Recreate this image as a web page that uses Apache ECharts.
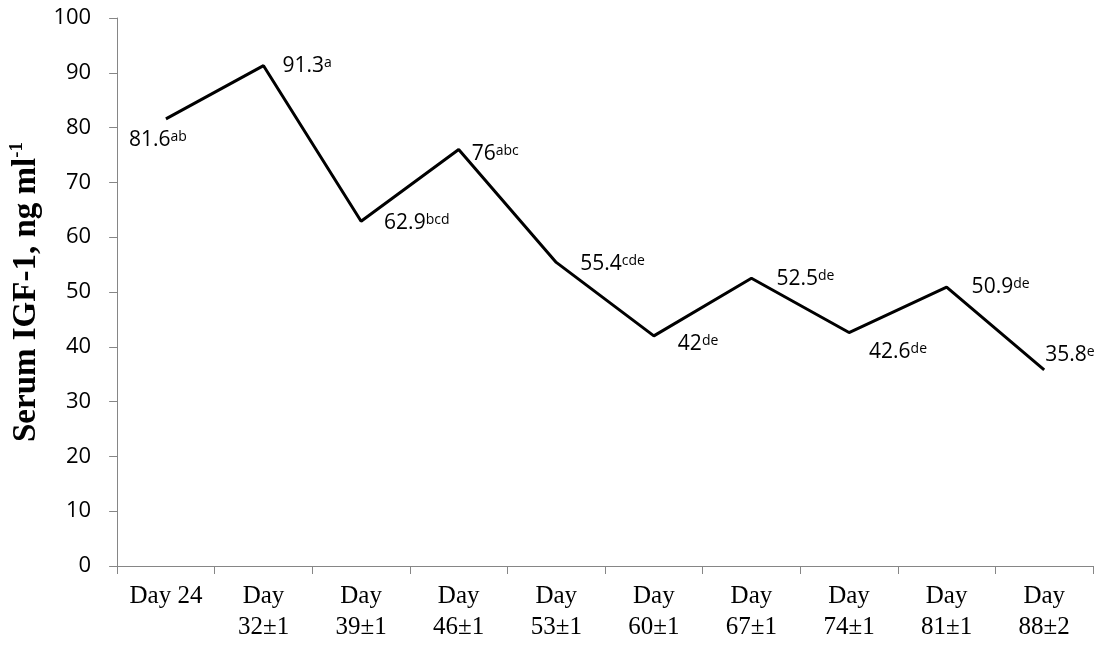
<!DOCTYPE html>
<html>
<head>
<meta charset="utf-8">
<script src="https://cdn.jsdelivr.net/npm/echarts@6/dist/echarts.min.js"></script>
<style>
  html, body { margin: 0; padding: 0; background: #fff; }
  #chart { width: 1113px; height: 645px; }
</style>
</head>
<body>
<div id="chart"></div>
<script>
// Sampling days
const categories = ['Day 24', 'Day\n32±1', 'Day\n39±1', 'Day\n46±1', 'Day\n53±1',
                    'Day\n60±1', 'Day\n67±1', 'Day\n74±1', 'Day\n81±1', 'Day\n88±2'];
// Mean serum IGF-1 (ng/ml)
const igf1 = [81.6, 91.3, 62.9, 76, 55.4, 42, 52.5, 42.6, 50.9, 35.8];
// Significance letters
const letters = ['ab', 'a', 'bcd', 'abc', 'cde', 'de', 'de', 'de', 'de', 'e'];
// Y axis ticks
const yTicks = { min: 0, max: 100, interval: 10 };

// Where each value label sits: [dx, dy] from its point to the label's left-middle
const labelOffsets = [[-37, 21], [19, 0], [23, 2], [13, 4], [24, 2],
                      [24, 8], [25, 1], [20, 19], [25, 0], [1, -15]];

const chart = echarts.init(document.getElementById('chart'));
const axisGray = '#868686';
const serif = 'Liberation Serif, Times New Roman, serif';
const sans = 'Open Sans, Lato, sans-serif';

chart.setOption({
  animation: false,
  backgroundColor: '#fff',
  grid: { left: 116, right: 20, top: 18, bottom: 79, containLabel: false },
  xAxis: {
    type: 'category',
    data: categories,
    boundaryGap: true,
    axisLine: { lineStyle: { color: axisGray, width: 1 } },
    axisTick: { show: true, alignWithLabel: false, length: 8, lineStyle: { color: axisGray } },
    axisLabel: {
      color: '#000',
      fontFamily: serif,
      fontSize: 25,
      lineHeight: 31,
      margin: 15,
      interval: 0
    },
    splitLine: { show: false }
  },
  yAxis: {
    type: 'value',
    min: yTicks.min, max: yTicks.max, interval: yTicks.interval,
    axisLine: { show: true, lineStyle: { color: axisGray, width: 1 } },
    axisTick: { show: true, length: 8, lineStyle: { color: axisGray } },
    axisLabel: { color: '#000', fontFamily: sans, fontSize: 22, margin: 26 },
    splitLine: { show: false },
    name: '{t|Serum IGF-1, ng ml}{s|-1}',
    nameLocation: 'middle',
    nameRotate: 90,
    nameGap: 70,
    nameTextStyle: {
      rich: {
        t: { fontFamily: serif, fontSize: 33, fontWeight: 'bold', color: '#000', lineHeight: 36 },
        s: { fontFamily: serif, fontSize: 19, fontWeight: 'bold', color: '#000', verticalAlign: 'top', lineHeight: 20 }
      }
    }
  },
  series: [{
    type: 'line',
    data: igf1.map((v, i) => ({
      value: v,
      label: { offset: labelOffsets[i] }
    })),
    showSymbol: true,
    symbol: 'circle',
    symbolSize: 1,
    itemStyle: { color: 'transparent', borderWidth: 0 },
    lineStyle: { color: '#000', width: 3 },
    emphasis: { disabled: true },
    label: {
      show: true,
      position: 'inside',
      align: 'left',
      verticalAlign: 'middle',
      formatter: p => '{v|' + p.value + '}{s|' + letters[p.dataIndex] + '}',
      rich: {
        v: { fontFamily: sans, fontSize: 21, color: '#000', lineHeight: 20 },
        s: { fontFamily: sans, fontSize: 14, color: '#000', verticalAlign: 'top', lineHeight: 13 }
      }
    }
  }]
});
</script>
</body>
</html>
